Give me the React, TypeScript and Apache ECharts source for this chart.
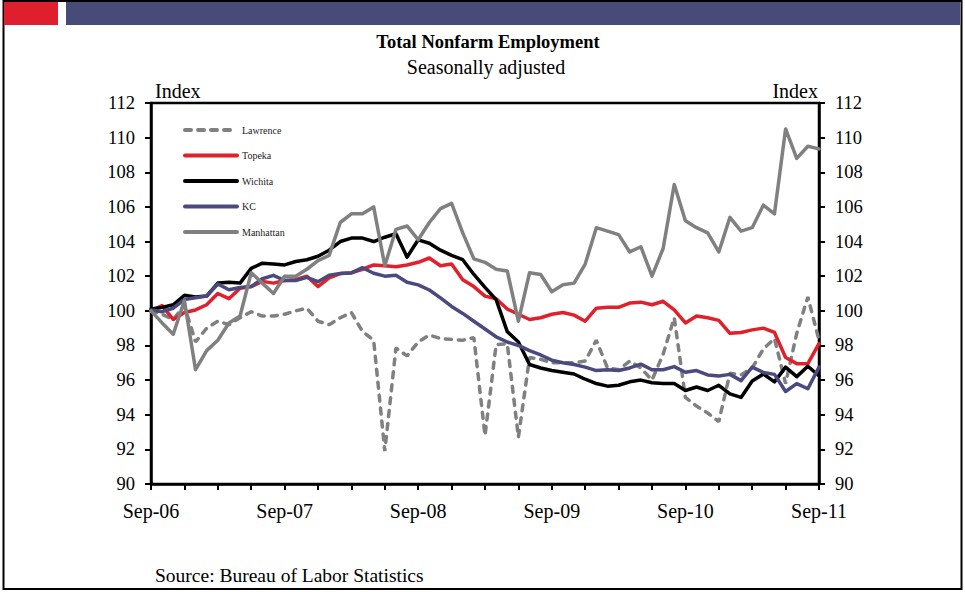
import React, { useEffect, useRef } from "react";
import * as echarts from "echarts";

const MONTHS = ["Jan", "Feb", "Mar", "Apr", "May", "Jun", "Jul", "Aug", "Sep", "Oct", "Nov", "Dec"];
const categories: string[] = [];
for (let k = 0; k <= 60; k++) {
  const m = (8 + k) % 12;
  const y = 2006 + Math.floor((8 + k) / 12);
  categories.push(`${MONTHS[m]}-${String(y % 100).padStart(2, "0")}`);
}

const lawrence = [100.0, 99.8, 99.5, 100.3, 98.2, 99.0, 99.4, 99.2, 99.6, 99.95,
  99.7, 99.7, 99.8, 100.0, 100.15, 99.4, 99.2, 99.6, 99.9, 98.8,
  98.3, 91.9, 97.85, 97.4, 98.2, 98.6, 98.4, 98.35, 98.3, 98.45,
  92.8, 98.05, 98.1, 92.7, 97.3, 97.2, 97.0, 97.0, 97.0, 97.1,
  98.3, 96.7, 96.6, 97.1, 96.7, 96.0, 97.5, 99.6, 95.0, 94.5,
  94.1, 93.6, 96.4, 96.3, 96.7, 97.8, 98.4, 95.8, 98.7, 100.8,
  98.3];
const topeka = [100.0, 100.3, 99.5, 99.9, 100.05, 100.35, 101.0, 100.7, 101.3, 101.4,
  101.7, 101.6, 101.75, 101.8, 102.0, 101.4, 101.9, 102.15, 102.2, 102.4,
  102.65, 102.6, 102.55, 102.65, 102.8, 103.05, 102.6, 102.7, 101.8, 101.4,
  100.85, 100.7, 100.1, 99.8, 99.5, 99.6, 99.8, 99.9, 99.75, 99.4,
  100.15, 100.2, 100.2, 100.45, 100.5, 100.35, 100.55, 100.05, 99.3, 99.7,
  99.6, 99.45, 98.7, 98.75, 98.9, 99.0, 98.75, 97.3, 96.95, 96.95,
  98.1];
const wichita = [100.1, 100.2, 100.35, 100.9, 100.8, 100.85, 101.6, 101.65, 101.6, 102.45,
  102.75, 102.7, 102.65, 102.85, 102.95, 103.15, 103.5, 104.0, 104.2, 104.2,
  104.0, 104.25, 104.45, 103.1, 104.1, 103.9, 103.5, 103.2, 102.95, 102.1,
  101.35, 100.65, 98.8, 98.2, 96.9, 96.7, 96.55, 96.45, 96.35, 96.05,
  95.8, 95.65, 95.7, 95.9, 96.0, 95.85, 95.8, 95.8, 95.4, 95.6,
  95.4, 95.7, 95.2, 95.0, 95.95, 96.35, 95.9, 96.75, 96.2, 96.8,
  96.25];
const kc = [100.05, 99.95, 100.15, 100.65, 100.75, 100.85, 101.55, 101.22, 101.35, 101.4,
  101.85, 102.05, 101.75, 101.75, 101.93, 101.68, 102.06, 102.16, 102.19, 102.49,
  102.17, 102.0, 102.05, 101.65, 101.5, 101.2, 100.75, 100.25, 99.85, 99.4,
  98.95, 98.5, 98.2, 98.0, 97.7, 97.45, 97.15, 97.0, 96.9, 96.75,
  96.55, 96.6, 96.55, 96.7, 96.92, 96.6, 96.6, 96.78, 96.45, 96.55,
  96.3, 96.24, 96.33, 95.97, 96.75, 96.44, 96.33, 95.34, 95.8, 95.5,
  96.75];
const manhattan = [100.0, 99.3, 98.65, 100.6, 96.6, 97.7, 98.3, 99.3, 99.7, 102.2,
  101.6, 101.0, 102.0, 102.0, 102.4, 102.9, 103.2, 105.1, 105.6, 105.6,
  106.0, 102.6, 104.7, 104.9, 104.1, 105.1, 105.9, 106.2, 104.5, 103.0,
  102.8, 102.4, 102.3, 99.4, 102.2, 102.1, 101.1, 101.5, 101.6, 102.7,
  104.8, 104.6, 104.4, 103.4, 103.7, 102.0, 103.6, 107.3, 105.2, 104.8,
  104.5, 103.4, 105.4, 104.6, 104.8, 106.1, 105.6, 110.5, 108.8, 109.5,
  109.35];

const FONT = "'Liberation Serif', 'Times New Roman', serif";

export default function App() {
  const ref = useRef<HTMLDivElement>(null);
  useEffect(() => {
    if (!ref.current) return;
    const chart = echarts.init(ref.current, null, { renderer: "svg" });
    const yAxisBase = {
      type: "value",
      min: 90,
      max: 112,
      interval: 2,
      splitLine: { show: false },
      axisLine: { show: true, lineStyle: { color: "#000", width: 2.5 } },
      axisTick: { show: true, inside: false, length: 6, lineStyle: { color: "#000", width: 2 } },
      axisLabel: { color: "#000", fontSize: 18.5, fontFamily: FONT, margin: 16 },
    };
    const mk = (name: string, data: number[], color: string, dashed = false) => ({
      name,
      type: "line",
      data,
      symbol: "none",
      showSymbol: false,
      lineStyle: dashed
        ? { color, width: 3.5, type: [6, 7], cap: "round" }
        : { color, width: 3.5, cap: "round", join: "round" },
      itemStyle: { color },
    });
    chart.setOption({
      animation: false,
      backgroundColor: "#fff",
      grid: {
        left: 151,
        right: 146,
        top: 103,
        bottom: 108,
        show: true,
        borderColor: "#000",
        borderWidth: 2.5,
        containLabel: false,
      },
      legend: {
        orient: "vertical",
        left: 183,
        top: 125,
        padding: 0,
        itemWidth: 52,
        itemHeight: 12,
        itemGap: 15.5,
        itemStyle: { opacity: 0 },
        lineStyle: { width: 4 },
        textStyle: { fontSize: 10, fontFamily: FONT, color: "#222" },
        data: ["Lawrence", "Topeka", "Wichita", "KC", "Manhattan"],
      },
      xAxis: {
        type: "category",
        data: categories,
        boundaryGap: false,
        axisLine: { show: true, lineStyle: { color: "#000", width: 2.5 } },
        axisTick: { show: true, interval: 2, length: 6, inside: false, lineStyle: { color: "#000", width: 2 } },
        axisLabel: { interval: 11, color: "#000", fontSize: 20, fontFamily: FONT, margin: 17 },
        splitLine: { show: false },
      },
      yAxis: [
        { ...yAxisBase, position: "left" },
        { ...yAxisBase, position: "right" },
      ],
      series: [
        mk("Lawrence", lawrence, "#808080", true),
        mk("Topeka", topeka, "#E0202A"),
        mk("Wichita", wichita, "#000000"),
        mk("KC", kc, "#4A4A7E"),
        mk("Manhattan", manhattan, "#808080"),
      ],
      graphic: [
        { type: "rect", shape: { x: 3.5, y: 1, width: 958, height: 588 }, style: { fill: "none", stroke: "#000", lineWidth: 2 }, z: 1 },
        { type: "rect", shape: { x: 4, y: 2, width: 54, height: 23 }, style: { fill: "#DF1F2D" }, z: 5 },
        { type: "rect", shape: { x: 66, y: 2, width: 894, height: 23 }, style: { fill: "#474B78" }, z: 5 },
        { type: "text", x: 488, y: 42, style: { text: "Total Nonfarm Employment", font: `bold 18.5px ${FONT}`, fill: "#000", textAlign: "center", textVerticalAlign: "middle" } },
        { type: "text", x: 486, y: 67, style: { text: "Seasonally adjusted", font: `20px ${FONT}`, fill: "#000", textAlign: "center", textVerticalAlign: "middle" } },
        { type: "text", x: 155, y: 91, style: { text: "Index", font: `20px ${FONT}`, fill: "#000", textAlign: "left", textVerticalAlign: "middle" } },
        { type: "text", x: 818, y: 91, style: { text: "Index", font: `20px ${FONT}`, fill: "#000", textAlign: "right", textVerticalAlign: "middle" } },
        { type: "text", x: 155, y: 575, style: { text: "Source: Bureau of Labor Statistics", font: `19.5px ${FONT}`, fill: "#000", textAlign: "left", textVerticalAlign: "middle" } },
      ],
    });
    return () => chart.dispose();
  }, []);
  return <div ref={ref} style={{ position: "absolute", left: 0, top: 0, width: 965, height: 592 }} />;
}
